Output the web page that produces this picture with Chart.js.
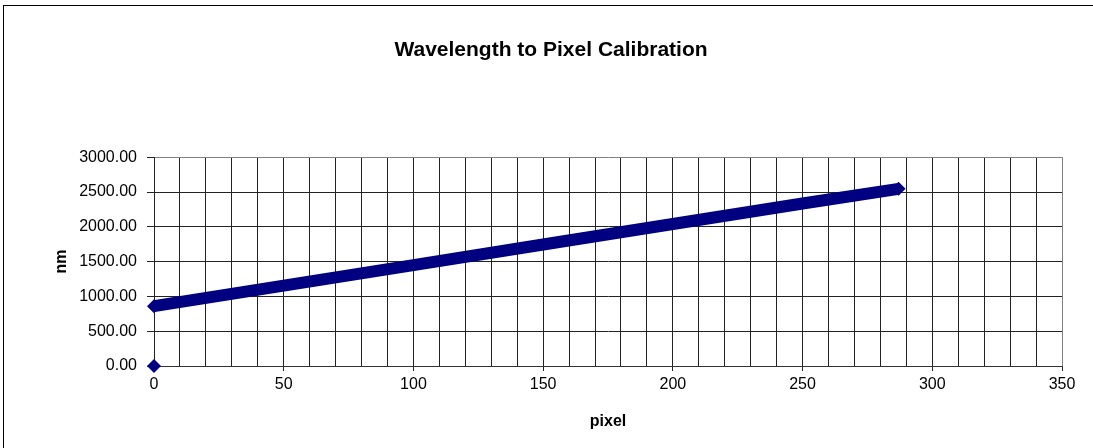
<!doctype html>
<html>

<head>
	<title>Wavelength to Pixel Calibration</title>
	<script src="https://cdn.jsdelivr.net/npm/chart.js@4/dist/chart.umd.min.js"></script>
	<style>
		body {
			margin: 0;
			background: #fff;
		}
	</style>
</head>

<body>
	<canvas id="chart-area" width="1093" height="448"></canvas>
	<script>
		// values (pixel -> nm)
		const pixels = [0, 50, 100, 150, 200, 250, 287];
		const wavelengths = [860, 1155, 1450, 1745, 2040, 2335, 2545];
		// the lone marker sitting at the origin
		const zeroPixel = [0];
		const zeroWavelength = [0];

		const xTicks = {min: 0, max: 350, step: 10, labelEvery: 50};
		const yTicks = {min: 0, max: 3000, step: 500};

		const navy = '#000080';
		const fontFamily = '"Liberation Sans", Arial, sans-serif';

		const toPoints = (xs, ys) => xs.map((x, i) => ({x: x, y: ys[i]}));

		// plain rectangle round the whole chart, like the Excel chart frame
		const frame = {
			id: 'frame',
			afterDraw(chart) {
				const ctx = chart.ctx;
				ctx.save();
				ctx.strokeStyle = '#000';
				ctx.lineWidth = 1;
				ctx.strokeRect(3.5, 5.5, chart.width + 10, chart.height + 10);
				ctx.restore();
			}
		};

		const config = {
			type: 'scatter',
			data: {
				datasets: [{
					label: 'calibration',
					data: toPoints(pixels, wavelengths),
					showLine: true,
					borderColor: navy,
					backgroundColor: navy,
					borderWidth: 12,
					pointStyle: 'rectRot',
					pointRadius: (ctx) => (ctx.dataIndex === 0 || ctx.dataIndex === pixels.length - 1) ? 7 : 0,
					pointBorderWidth: 0,
					clip: false
				}, {
					label: 'origin',
					data: toPoints(zeroPixel, zeroWavelength),
					backgroundColor: navy,
					borderColor: navy,
					pointStyle: 'rectRot',
					pointRadius: 7,
					pointBorderWidth: 0,
					clip: false
				}]
			},
			options: {
				responsive: false,
				animation: false,
				devicePixelRatio: 1,
				layout: {
					padding: {left: 40, right: 31, top: 0, bottom: 0}
				},
				plugins: {
					legend: {display: false},
					tooltip: {enabled: false},
					title: {
						display: true,
						text: 'Wavelength to Pixel Calibration',
						color: '#000',
						font: {family: fontFamily, size: 21, weight: 'bold'},
						padding: {top: 38, bottom: 94}
					}
				},
				scales: {
					x: {
						type: 'linear',
						min: xTicks.min,
						max: xTicks.max,
						afterFit(scale) {
							scale.height = 82;
						},
						border: {color: '#333', width: 1},
						grid: {
							color: (ctx) => ctx.tick && ctx.tick.value === xTicks.max ? '#808080' : '#222',
							tickColor: (ctx) => ctx.tick && ctx.tick.value % xTicks.labelEvery === 0 ? '#222' : 'rgba(0,0,0,0)',
							tickLength: 5
						},
						ticks: {
							stepSize: xTicks.step,
							autoSkip: false,
							maxRotation: 0,
							padding: 4,
							color: '#000',
							font: {family: fontFamily, size: 16},
							callback: (v) => v % xTicks.labelEvery === 0 ? v : ''
						},
						title: {
							display: true,
							text: 'pixel',
							color: '#000',
							font: {family: fontFamily, size: 16, weight: 'bold'},
							padding: {top: 0, bottom: 17}
						}
					},
					y: {
						type: 'linear',
						min: yTicks.min,
						max: yTicks.max,
						afterFit(scale) {
							scale.width = 114;
						},
						border: {color: '#222', width: 1},
						grid: {
							color: (ctx) => ctx.tick && ctx.tick.value === yTicks.max ? '#808080' : '#222',
							tickColor: '#222',
							tickLength: 7
						},
						ticks: {
							stepSize: yTicks.step,
							padding: 10,
							color: '#000',
							font: {family: fontFamily, size: 16},
							callback: (v) => v.toFixed(2)
						},
						title: {
							display: true,
							text: 'nm',
							color: '#000',
							font: {family: fontFamily, size: 16, weight: 'bold'},
							padding: {top: 12, bottom: 0}
						}
					}
				}
			},
			plugins: [frame]
		};

		window.onload = function() {
			const ctx = document.getElementById('chart-area');
			window.myScatter = new Chart(ctx, config);
		};
	</script>
</body>

</html>
